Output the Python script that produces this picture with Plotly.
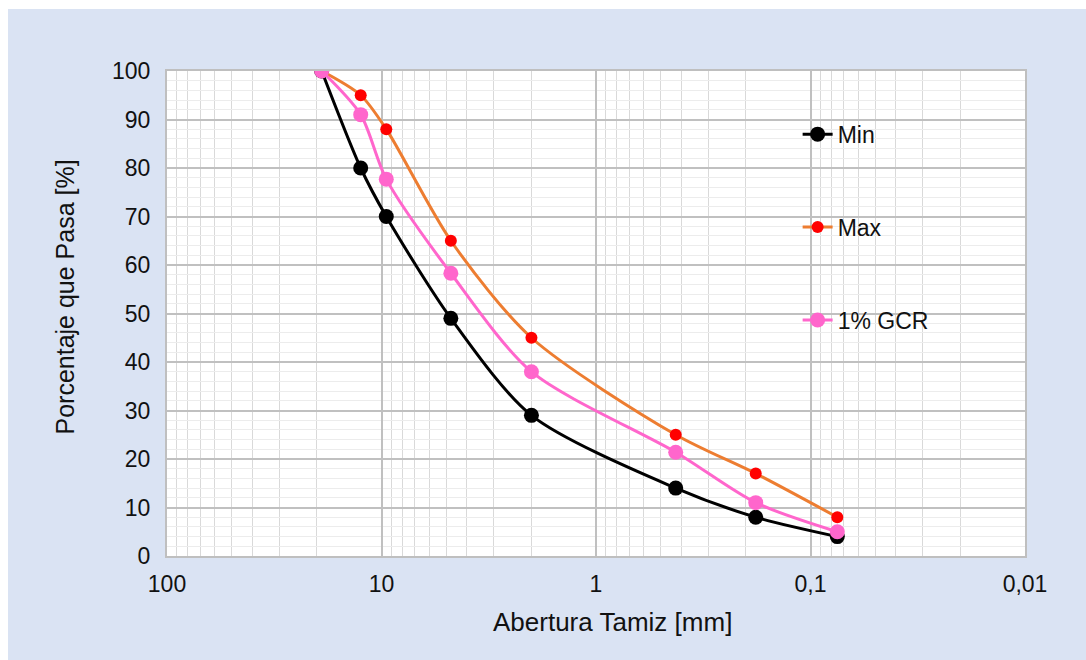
import plotly.graph_objects as go

# Data
sieve_mm = [19, 12.5, 9.5, 4.75, 2.0, 0.425, 0.18, 0.075]
min_pass = [100, 80, 70, 49, 29, 14, 8, 4]
max_pass = [100, 95, 88, 65, 45, 25, 17, 8]
gcr_pass = [100, 91, 77.7, 58.3, 38, 21.4, 11, 5]

x_tickvals = [100, 10, 1, 0.1, 0.01]
x_ticktext = ["100", "10", "1", "0,1", "0,01"]
y_tickvals = [0, 10, 20, 30, 40, 50, 60, 70, 80, 90, 100]

FONT = "Liberation Sans, Arial, sans-serif"
BG = "#dae3f3"
TXT = "#111111"

fig = go.Figure()

fig.add_trace(go.Scatter(
    x=sieve_mm, y=min_pass, name="Min", legendgroup="a",
    mode="lines+markers", line=dict(color="#000000", width=3, shape="spline", smoothing=0.8),
    marker=dict(color="#000000", size=15)))
fig.add_trace(go.Scatter(
    x=sieve_mm, y=max_pass, name="Max", legendgroup="b",
    mode="lines+markers", line=dict(color="#ed7d31", width=3, shape="spline", smoothing=0.8),
    marker=dict(color="#ff0000", size=12)))
fig.add_trace(go.Scatter(
    x=sieve_mm, y=gcr_pass, name="1% GCR", legendgroup="c",
    mode="lines+markers", line=dict(color="#ff66cc", width=3, shape="spline", smoothing=0.8),
    marker=dict(color="#ff66cc", size=15)))

minor_x = [m * 10 ** e for e in range(-2, 2) for m in range(2, 10)]

fig.update_xaxes(
    type="log", range=[2, -2],
    tickmode="array", tickvals=x_tickvals, ticktext=x_ticktext,
    showgrid=True, gridcolor="#c0c0c0", gridwidth=1.5,
    minor=dict(tickmode="array", tickvals=minor_x, showgrid=True, gridcolor="#d9d9d9", gridwidth=1),
    showline=True, linecolor="#bfbfbf", linewidth=2, mirror=True,
    ticks="", ticklabelstandoff=6, tickfont=dict(family=FONT, size=23, color=TXT),
    zeroline=False,
)
fig.update_yaxes(
    range=[0, 100], tickmode="array", tickvals=y_tickvals,
    showgrid=True, gridcolor="#c0c0c0", gridwidth=1.5,
    minor=dict(dtick=2, showgrid=True, gridcolor="#ececec", gridwidth=1),
    showline=True, linecolor="#bfbfbf", linewidth=2, mirror=True,
    ticks="", ticklabelstandoff=10, tickfont=dict(family=FONT, size=23, color=TXT),
    zeroline=False,
)

fig.update_layout(
    width=1086, height=660,
    margin=dict(l=167, r=61, t=71, b=104),
    paper_bgcolor=BG, plot_bgcolor="#ffffff",
    showlegend=True,
    legend=dict(x=0.735, y=0.914, xanchor="left", yanchor="top",
                bgcolor="rgba(0,0,0,0)", tracegroupgap=60,
                font=dict(family=FONT, size=23, color=TXT)),
    annotations=[
        dict(text="Abertura Tamiz [mm]", xref="paper", yref="paper",
             x=(612 - 167) / 858, y=-(622 - 556) / 485, xanchor="center", yanchor="middle",
             showarrow=False, font=dict(family=FONT, size=26, color=TXT)),
        dict(text="Porcentaje que Pasa [%]", xref="paper", yref="paper", textangle=-90,
             x=(64 - 167) / 858, y=1 - (297.5 - 71) / 485, xanchor="center", yanchor="middle",
             showarrow=False, font=dict(family=FONT, size=25, color=TXT)),
    ],
    shapes=[
        dict(type="rect", xref="paper", yref="paper", x0=-0.3, x1=(8 - 167) / 858, y0=-0.5, y1=1.5,
             fillcolor="#ffffff", line=dict(width=0), layer="below"),
        dict(type="rect", xref="paper", yref="paper", x0=-0.3, x1=1.2, y0=1 + (71 - 9) / 485, y1=1.5,
             fillcolor="#ffffff", line=dict(width=0), layer="below"),
    ],
)

fig.write_html("out.html")
